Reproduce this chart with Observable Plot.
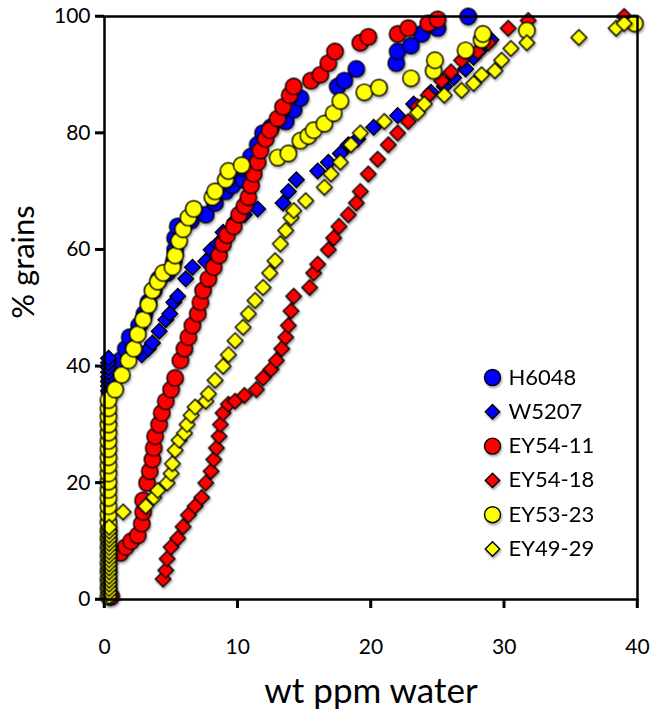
<!DOCTYPE html>
<html><head><meta charset="utf-8">
<script src="https://cdn.jsdelivr.net/npm/d3@7"></script>
<script src="https://cdn.jsdelivr.net/npm/@observablehq/plot@0.6"></script>
<style>
body{margin:0;background:#fff;}
#chart svg{font-family: Lato, "Open Sans", sans-serif; overflow: visible;}
.shadow{filter: drop-shadow(1px 2px 1.2px rgba(0,0,0,0.35));}
</style></head><body><div id="chart"></div>
<script>
// ---- data (x = wt ppm water, y = % grains) ----
const seriesNames = ["H6048", "W5207", "EY54-11", "EY54-18", "EY53-23", "EY49-29"];
const seriesFill = ["#0000ff", "#0000ff", "#ff0000", "#ff0000", "#ffff00", "#ffff00"];
const seriesSymbol = ["circle", "diamond2", "circle", "diamond2", "circle", "diamond2"];
const xTicks = [0, 10, 20, 30, 40];
const yTicks = [0, 20, 40, 60, 80, 100];

const h6048 = [[0.4,35.5],[0.4,37.5],[0.6,39.5],[1.2,41],[1.6,43],[1.9,45],[2.6,47],[3.0,49],[3.3,51],[3.7,53],[4.1,55],[4.7,56],[5.2,58],[5.3,60],[5.3,62],[5.5,64],[6.5,65],[7.6,66],[8.3,68],[9.1,70],[9.6,71],[10.4,72],[10.4,74],[11.0,76],[11.5,78],[11.9,80],[12.5,81],[13.6,82],[14.2,84],[14.7,86],[17.5,88],[18.0,89],[18.9,91],[21.9,92],[22.0,94],[23.0,95],[23.8,97],[25.0,98],[27.3,100]];

const w5207 = [[0.3,35.8],[0.3,36.6],[0.3,37.4],[0.3,38.2],[0.3,39],[0.3,39.8],[0.3,40.6],[0.3,41.4],[2.8,42],[3.3,43],[3.6,44],[4.1,46],[4.6,48],[4.9,49],[5.2,51],[5.5,52],[6.1,55],[6.6,57],[7.6,58],[8.0,60],[8.5,61],[8.9,63],[9.8,65],[10.5,66],[11.5,67],[13.4,68],[13.8,70],[14.4,72],[16.0,73.5],[16.8,75],[17.7,76.5],[18.3,78],[19.0,79],[20.2,81],[22.0,83],[23.2,85],[24.5,87],[25.5,88],[26.2,89.5],[27.1,91],[27.7,93],[28.3,94.5],[29.0,96]];

const ey5411 = [[0.5,0.5],[1.2,8],[1.6,9],[2.0,10],[2.5,11],[2.8,13],[2.9,15],[2.9,17],[3.2,20],[3.4,22],[3.6,24],[3.7,26],[3.8,28],[4.1,30],[4.3,32],[4.6,34],[5.0,36],[5.3,38],[5.7,41],[6.0,43],[6.3,45],[6.6,47],[7.0,49],[7.2,51],[7.4,53],[7.8,55],[8.2,57],[8.6,59],[8.9,61],[9.2,62.5],[9.7,64],[10.1,66],[10.5,67.5],[10.8,69],[11.0,71],[11.2,73],[11.5,75],[11.7,77],[12.1,79],[12.4,80.5],[13.0,82.5],[13.4,84.5],[13.9,86.5],[14.2,88],[15.5,89],[16.2,90],[16.8,92],[17.3,94],[19.2,95.5],[19.8,96.5],[22.0,97],[22.8,98],[24.3,98.8],[25.0,99.5]];

const ey5418 = [[4.4,3.5],[4.6,5],[4.7,7],[5.0,9],[5.5,10.5],[5.9,12.5],[6.3,14.5],[6.8,16],[7.3,17.5],[7.6,20],[8.0,22],[8.2,24],[8.4,26],[8.6,28],[8.7,30],[8.9,32],[9.3,33.5],[9.8,34],[10.5,35],[11.4,36],[11.9,38],[12.5,39.5],[12.9,41],[13.3,43],[13.6,45],[13.8,47],[14.0,49.5],[14.2,52],[15.4,53.5],[15.7,56],[16.0,57.5],[16.8,60],[17.2,62],[17.6,64],[18.3,66],[18.9,68],[19.2,70],[19.8,73],[20.5,75.5],[21.3,78],[22.0,80],[22.8,82],[23.5,84.5],[24.3,86.5],[25.3,89],[26.0,90.5],[26.8,92.5],[28.0,94],[28.8,95.5],[30.3,98],[31.8,99.3],[39.0,100]];

const ey5323 = [[0.3,0.6],[0.3,2],[0.3,3.4],[0.3,4.8],[0.3,6.2],[0.3,7.6],[0.3,9],[0.3,10.4],[0.3,11.8],[0.3,13.2],[0.3,14.6],[0.3,16],[0.3,17.4],[0.3,18.8],[0.3,20.2],[0.3,21.6],[0.3,23],[0.3,24.4],[0.3,25.8],[0.3,27.2],[0.3,28.6],[0.3,30],[0.3,31.4],[0.3,32.8],[0.3,34.2],[0.8,36],[1.3,38.5],[1.8,41],[2.2,43],[2.5,45.5],[2.9,48],[3.3,50.5],[3.6,53],[4.0,54.5],[4.4,56],[5.1,57],[5.3,59],[5.6,61.5],[5.9,63.5],[6.3,65.5],[6.7,67],[8.1,69],[8.3,70],[9.1,72],[9.3,73.5],[10.3,74.5],[13.0,75.8],[13.8,76.5],[14.7,78.7],[15.3,79.5],[15.7,80.5],[16.5,81.6],[17.2,83.4],[17.7,85.5],[19.5,87],[20.6,87.8],[23.0,89.4],[24.7,90.7],[24.8,92.5],[27.1,94.2],[28.3,96],[28.4,97],[31.7,97.6],[39.8,98.8]];

const ey4929 = [[0.35,0.5],[0.35,1.2],[0.35,1.9],[0.35,2.6],[0.35,3.3],[0.35,4],[0.35,4.7],[0.35,5.4],[0.35,6.1],[0.35,6.8],[0.35,7.5],[0.35,8.2],[0.35,8.9],[0.35,9.6],[0.35,10.3],[0.35,11],[0.35,11.7],[0.35,12.4],[1.4,15],[3.1,16],[3.7,17.5],[4.0,18.7],[4.7,20],[5.0,21.6],[5.1,23.3],[5.3,25.6],[5.6,27.3],[6.0,28.5],[6.2,30],[6.5,31.6],[6.8,33],[7.6,34],[7.8,35.3],[8.3,37.6],[8.9,40],[9.3,42],[9.8,44.4],[10.4,46.7],[10.8,49],[11.3,51.3],[11.9,53.5],[12.4,56],[12.8,58.1],[13.2,61],[13.6,63.3],[14.0,65.5],[14.2,66.7],[15.1,68.4],[16.5,70.7],[17.0,73],[17.7,75],[18.5,78],[19.2,80],[21.0,82],[23.5,83.5],[24.0,85],[25.5,86.5],[26.8,87.3],[27.7,88.5],[28.3,90],[29.3,90.7],[29.8,92.5],[30.5,94.5],[31.7,95.5],[35.6,96.4],[38.4,98],[39.0,98.8]];

const seriesData = [h6048, w5207, ey5411, ey5418, ey5323, ey4929];

const sizeFor = s => s === "circle" ? 8.2 : 7;

const dataMarks = seriesData.map((d, i) =>
  Plot.dot(d, {x: d => d[0], y: d => d[1], symbol: () => seriesSymbol[i], r: sizeFor(seriesSymbol[i]),
    fill: seriesFill[i], stroke: "#000", strokeWidth: 1.4, className: "shadow"})
);

const legendMarks = seriesNames.flatMap((name, i) => [
  Plot.dot([name], {frameAnchor: "top-left", dx: 388, dy: 361 + i * 34.3, symbol: () => seriesSymbol[i],
    r: seriesSymbol[i] === "circle" ? 8 : 6.5, fill: seriesFill[i], stroke: "#000", strokeWidth: 1.4, className: "shadow"}),
  Plot.text([name], {frameAnchor: "top-left", dx: 404, dy: 361 + i * 34.3, text: d => d, textAnchor: "start",
    lineAnchor: "middle", fontSize: 22, fill: "#000"})
]);

const plot = Plot.plot({
  width: 654, height: 714,
  marginLeft: 104, marginRight: 17, marginTop: 16, marginBottom: 115,
  style: {fontFamily: "Lato, 'Open Sans', sans-serif", fontSize: "21px", color: "#000", background: "#fff"},
  x: {domain: [0, 40]},
  y: {domain: [0, 100]},
  symbol: {type: "identity"},
  marks: [
    Plot.axisX({ticks: xTicks, tickSize: 9, tickPadding: 31, stroke: "#000", strokeWidth: 2.5, label: null, fontSize: 21}),
    Plot.axisY({ticks: yTicks, tickSize: 9, tickPadding: 5, stroke: "#000", strokeWidth: 2.5, label: null, fontSize: 21}),
    ...dataMarks,
    Plot.frame({stroke: "#000", strokeWidth: 2.5}),
    ...legendMarks,
    Plot.text(["wt ppm water"], {frameAnchor: "bottom", text: d => d, textAnchor: "middle", lineAnchor: "middle", dy: 92, fontSize: 35, fill: "#000"}),
    Plot.text(["% grains"], {frameAnchor: "left", text: d => d, textAnchor: "middle", lineAnchor: "middle", rotate: -90, dx: -80, dy: -46, fontSize: 31, fill: "#000"})
  ]
});

// outward tick strokes, positioned with the plot's own scales
const sx = plot.scale("x"), sy = plot.scale("y");
const tg = d3.select(plot).append("g").attr("stroke", "#000").attr("stroke-width", 2.5);
const y0 = sy.apply(0), x0 = sx.apply(0);
xTicks.forEach(t => tg.append("line").attr("x1", sx.apply(t)).attr("x2", sx.apply(t)).attr("y1", y0).attr("y2", y0 + 9));
yTicks.forEach(t => tg.append("line").attr("y1", sy.apply(t)).attr("y2", sy.apply(t)).attr("x1", x0).attr("x2", x0 - 9));

document.getElementById("chart").appendChild(plot);
</script></body></html>
